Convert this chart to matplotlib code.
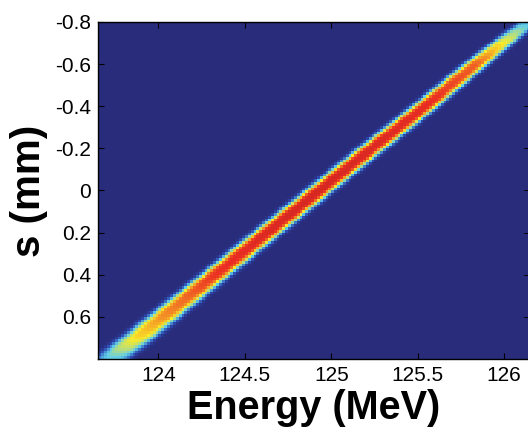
import numpy as np
import matplotlib
matplotlib.use("Agg")
import matplotlib.pyplot as plt
from matplotlib.colors import LinearSegmentedColormap

# ---- data ----
s_knots = [-0.80, -0.75, -0.70, -0.60, -0.40, -0.20, 0.00, 0.20, 0.40, 0.60, 0.70, 0.75, 0.80]
center_energy = [126.14, 126.07, 125.99, 125.836, 125.544, 125.235, 124.932, 124.63, 124.33, 124.03, 123.88, 123.80, 123.73]
peak_level = [0.33, 0.48, 0.62, 0.80, 0.88, 0.90, 0.91, 0.90, 0.86, 0.74, 0.64, 0.52, 0.36]
band_width = [0.050, 0.052, 0.054, 0.058, 0.062, 0.065, 0.066, 0.068, 0.070, 0.075, 0.078, 0.080, 0.080]

x_ticks = [124, 124.5, 125, 125.5, 126]
x_ticklabels = ["124", "124.5", "125", "125.5", "126"]
y_ticks = [-0.8, -0.6, -0.4, -0.2, 0.0, 0.2, 0.4, 0.6]
y_ticklabels = ["-0.8", "-0.6", "-0.4", "-0.2", "0", "0.2", "0.4", "0.6"]
x_range = (123.65, 126.15)
y_range = (0.8, -0.8)

# ---- density grid built from the band profile ----
E_edges = np.linspace(x_range[0], x_range[1], 151)
s_edges = np.linspace(-0.8, 0.8, 121)
E_c = 0.5 * (E_edges[:-1] + E_edges[1:])
s_c = 0.5 * (s_edges[:-1] + s_edges[1:])
EE, SS = np.meshgrid(E_c, s_c)
cen = np.interp(SS, s_knots, center_energy)
amp = np.interp(SS, s_knots, peak_level)
wid = np.interp(SS, s_knots, band_width)
u = np.abs(EE - cen) / wid
density = amp * np.exp(-0.5 * u ** 3.5)

cmap = LinearSegmentedColormap.from_list(
    "jet_print",
    [(0.0, (41/255, 44/255, 122/255)),
     (0.12, (45/255, 75/255, 180/255)),
     (0.37, (95/255, 205/255, 235/255)),
     (0.62, (250/255, 235/255, 40/255)),
     (0.87, (235/255, 45/255, 35/255)),
     (1.0, (160/255, 30/255, 30/255))])

plt.rcParams['font.family'] = ['Liberation Sans', 'DejaVu Sans']

fig = plt.figure(figsize=(5.28, 4.29), dpi=100)
ax = fig.add_axes([98/528, 1 - 359/429, 432/528, 337/429])
ax.pcolormesh(E_edges, s_edges, density, cmap=cmap, vmin=0, vmax=1, shading='flat')
ax.set_xlim(*x_range)
ax.set_ylim(*y_range)
ax.set_xticks(x_ticks)
ax.set_xticklabels(x_ticklabels)
ax.set_yticks(y_ticks)
ax.set_yticklabels(y_ticklabels)
ax.tick_params(direction='in', top=True, right=True, length=4, width=0.8,
               labelsize=15, pad=5, colors='black')
for sp in ax.spines.values():
    sp.set_linewidth(1.0)

ax.set_xlabel("Energy (MeV)", fontsize=28.5, fontweight='bold', labelpad=3)
ax.set_ylabel("s (mm)", fontsize=29, fontweight='bold', labelpad=5)

fig.savefig("out.png", dpi=100)
